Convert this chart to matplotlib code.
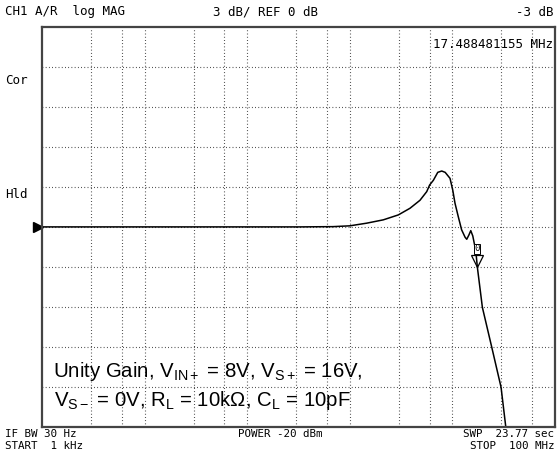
import matplotlib
matplotlib.use("Agg")
import matplotlib.pyplot as plt
import matplotlib.transforms as mtransforms

# ---- data ----
freq_mhz = [0.001, 0.1, 0.327, 0.686, 1.0, 1.46, 2.12, 2.97, 3.86, 4.83, 5.62, 6.0,
            6.52, 7.2, 7.87, 8.5, 9.48, 10.07, 10.6, 11.4, 12.3, 13.3, 13.8, 14.5,
            15.1, 15.8, 16.6, 17.1, 17.49, 19.6, 24.2, 29.8, 33.1, 35.0]
gain_db = [0.0, 0.0, 0.0, 0.02, 0.08, 0.28, 0.53, 0.9, 1.4, 2.0, 2.65, 3.15,
           3.5, 4.1, 4.2, 4.1, 3.65, 2.78, 1.78, 0.78, -0.22, -0.78, -0.93, -0.6,
           -0.28, -0.68, -1.5, -2.2, -3.0, -6.05, -9.05, -12.05, -15.0, -16.0]
marker_freq_mhz = 17.488481155
marker_db = -3.0
minor_grid_mult = [3, 6]
decades_hz = [1e3, 1e4, 1e5, 1e6, 1e7, 1e8]
db_per_div = 3
header_left = "CH1 A/R  log MAG"
header_mid = "3 dB/ REF 0 dB"
header_right = "-3 dB"
marker_label = "17.488481155 MHz"

W, H = 557, 453
fig = plt.figure(figsize=(W / 100, H / 100), dpi=100)
ax = fig.add_axes([42 / W, (H - 426.5) / H, 513 / W, (426.5 - 27.3) / H])
ax.set_xscale("log")
ax.set_xlim(decades_hz[0], decades_hz[-1])
ax.set_ylim(-5 * db_per_div, 5 * db_per_div)
ax.set_xticks([])
ax.set_yticks([])
ax.minorticks_off()
for s in ax.spines.values():
    s.set_color("#444444")
    s.set_linewidth(1.6)

grid_kw = dict(color="#222222", lw=0.8, dashes=(0.7, 2.2))
for d in decades_hz[:-1]:
    for m in [1] + minor_grid_mult:
        v = d * m
        if decades_hz[0] < v < decades_hz[-1]:
            ax.axvline(v, **grid_kw)
for k in range(-4, 5):
    ax.axhline(k * db_per_div, **grid_kw)

freq_hz = [f * 1e6 for f in freq_mhz]
ax.plot(freq_hz, gain_db, color="black", lw=1.1)

# reference arrow
trans = mtransforms.blended_transform_factory(ax.transAxes, ax.transData)
ax.plot([-0.008], [0], marker=">", color="black", ms=7, transform=trans, clip_on=False)

# marker
off = mtransforms.offset_copy(ax.transData, fig=fig, x=0, y=4.5, units="points")
ax.plot([marker_freq_mhz * 1e6], [marker_db], marker="v", ms=8, mfc="none",
        mec="black", mew=0.9, transform=off)
off2 = mtransforms.offset_copy(ax.transData, fig=fig, x=0, y=13, units="points")
ax.text(marker_freq_mhz * 1e6, marker_db, "0", transform=off2, ha="center", va="center",
        fontsize=6.5, family="DejaVu Sans Mono",
        bbox=dict(boxstyle="square,pad=0.05", fc="white", ec="black", lw=0.7))

mono = dict(family="DejaVu Sans Mono", color="black", va="center")
def ftext(x, y, s, size=9, ha="left"):
    fig.text(x / W, 1 - y / H, s, fontsize=size, ha=ha, **mono)

ftext(5, 12, header_left)
ftext(213, 12, header_mid)
ftext(554, 12, header_right, ha="right")
ftext(553, 44, marker_label, ha="right")
ftext(5, 80, "Cor")
ftext(5, 195, "Hld")
ftext(5, 434, "IF BW 30 Hz", 7.8)
ftext(5, 446, "START  1 kHz", 7.8)
ftext(238, 434, "POWER -20 dBm", 7.8)
ftext(554, 434, "SWP  23.77 sec", 7.8, ha="right")
ftext(554, 446, "STOP  100 MHz", 7.8, ha="right")

plt.rcParams["mathtext.fontset"] = "custom"
plt.rcParams["mathtext.rm"] = "Liberation Sans"
plt.rcParams["mathtext.it"] = "Liberation Sans"
plt.rcParams["mathtext.bf"] = "Liberation Sans"
line1 = r"Unity Gain, V$_{\mathrm{IN+}}$ = 8V, V$_{\mathrm{S+}}$ = 16V,"
line2 = "V$_{\\mathrm{S\u2212}}$ = 0V, R$_{\\mathrm{L}}$ = 10k\u03a9, C$_{\\mathrm{L}}$ = 10pF"
fig.text(53 / W, 1 - 371.5 / H, line1, fontsize=14.7, family="Liberation Sans", va="center")
fig.text(54 / W, 1 - 400.5 / H, line2, fontsize=14.7, family="Liberation Sans", va="center")

fig.savefig("out.png", dpi=100, facecolor="white")
